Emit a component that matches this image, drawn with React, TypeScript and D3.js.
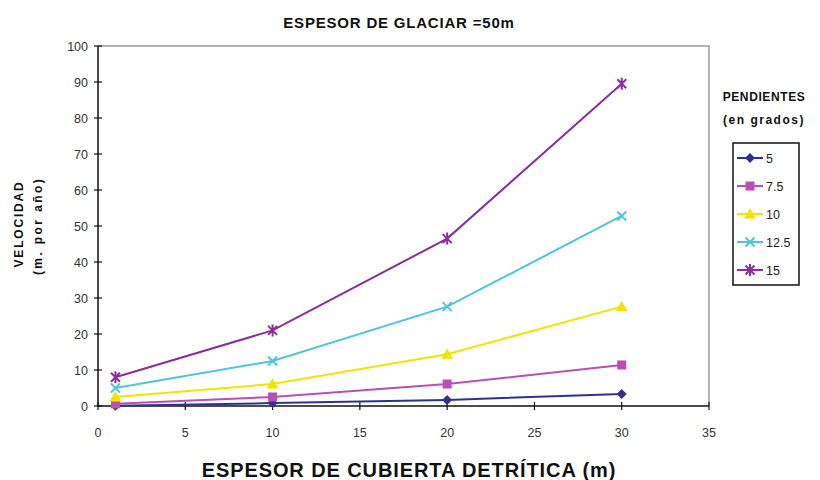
import React from "react";
import * as d3 from "d3";

const xValues = [1, 10, 20, 30];
const seriesNames = ["5", "7.5", "10", "12.5", "15"];
const s5 = [0.1, 0.8, 1.7, 3.3];
const s75 = [0.6, 2.5, 6.1, 11.4];
const s10 = [2.5, 6.1, 14.4, 27.6];
const s125 = [5, 12.5, 27.6, 52.8];
const s15 = [8, 21, 46.5, 89.5];
const allSeries = [s5, s75, s10, s125, s15];
const colors = ["#2E3192", "#B94FB0", "#F0E500", "#4EC6DA", "#8A2D9E"];
const markers = ["diamond", "square", "triangle", "x", "star"];
const xTicks = [0, 5, 10, 15, 20, 25, 30, 35];
const yTicks = [0, 10, 20, 30, 40, 50, 60, 70, 80, 90, 100];

function Marker({ type, x, y, color }: { type: string; x: number; y: number; color: string }) {
  if (type === "diamond")
    return <path d={`M${x},${y - 5}L${x + 5},${y}L${x},${y + 5}L${x - 5},${y}Z`} fill={color} />;
  if (type === "square") return <rect x={x - 4.5} y={y - 4.5} width={9} height={9} fill={color} />;
  if (type === "triangle")
    return <path d={`M${x},${y - 6}L${x + 6},${y + 4.5}L${x - 6},${y + 4.5}Z`} fill={color} />;
  if (type === "x")
    return (
      <path d={`M${x - 4.5},${y - 4.5}L${x + 4.5},${y + 4.5}M${x + 4.5},${y - 4.5}L${x - 4.5},${y + 4.5}`} stroke={color} strokeWidth={2} />
    );
  return (
    <path
      d={`M${x - 4.5},${y - 4.5}L${x + 4.5},${y + 4.5}M${x + 4.5},${y - 4.5}L${x - 4.5},${y + 4.5}M${x},${y - 6}L${x},${y + 6}`}
      stroke={color}
      strokeWidth={2}
    />
  );
}

export default function App() {
  const W = 820, H = 480;
  const left = 98, right = 709, top = 46, bottom = 406;
  const x = d3.scaleLinear().domain([0, 35]).range([left, right]);
  const y = d3.scaleLinear().domain([0, 100]).range([bottom, top]);
  const line = d3.line<number>().x((_, i) => x(xValues[i])).y((d) => y(d));
  const font = "Liberation Sans, Arial, sans-serif";

  const legX = 733, legY = 143, legW = 66, legH = 142;
  return (
    <svg width={W} height={H} style={{ position: "absolute", left: 0, top: 0 }} fontFamily={font}>
      <rect width={W} height={H} fill="#fff" />
      <text x={399} y={28} textAnchor="middle" fontSize={15} fontWeight="bold" letterSpacing={0.8} fill="#111">
        ESPESOR DE GLACIAR =50m
      </text>
      {/* plot frame */}
      <path d={`M${left},${top}H${right}V${bottom}`} fill="none" stroke="#999" strokeWidth={1.5} />
      {/* axes */}
      <line x1={left} x2={left} y1={top} y2={bottom} stroke="#111" strokeWidth={1.5} />
      <line x1={left} x2={right} y1={bottom} y2={bottom} stroke="#111" strokeWidth={1.5} />
      {yTicks.map((t) => (
        <g key={"y" + t}>
          <line x1={left - 4} x2={left + 4} y1={y(t)} y2={y(t)} stroke="#111" strokeWidth={1.2} />
          <text x={left - 10} y={y(t) + 4.5} textAnchor="end" fontSize={12.5} fill="#333">
            {t}
          </text>
        </g>
      ))}
      {xTicks.map((t) => (
        <g key={"x" + t}>
          <line x1={x(t)} x2={x(t)} y1={bottom - 4} y2={bottom + 4} stroke="#111" strokeWidth={1.2} />
          <text x={x(t)} y={bottom + 31} textAnchor="middle" fontSize={12.5} fill="#333">
            {t}
          </text>
        </g>
      ))}
      {/* series */}
      {allSeries.map((s, i) => (
        <g key={"s" + i}>
          <path d={line(s) || ""} fill="none" stroke={colors[i]} strokeWidth={2} />
          {s.map((v, j) => (
            <Marker key={j} type={markers[i]} x={x(xValues[j])} y={y(v)} color={colors[i]} />
          ))}
        </g>
      ))}
      {/* y title */}
      <text transform="translate(23,224) rotate(-90)" textAnchor="middle" fontSize={12} fontWeight="bold" letterSpacing={1.8} fill="#111">
        VELOCIDAD
      </text>
      <text transform="translate(42,226) rotate(-90)" textAnchor="middle" fontSize={12} fontWeight="bold" letterSpacing={2.4} fill="#111">
        (m. por año)
      </text>
      {/* x title */}
      <text x={409} y={477} textAnchor="middle" fontSize={20} fontWeight="bold" letterSpacing={0.9} fill="#111">
        ESPESOR DE CUBIERTA DETRÍTICA (m)
      </text>
      {/* legend */}
      <text x={764} y={101} textAnchor="middle" fontSize={12} fontWeight="bold" letterSpacing={0.6} fill="#111">
        PENDIENTES
      </text>
      <text x={764} y={124} textAnchor="middle" fontSize={12} fontWeight="bold" letterSpacing={1.5} fill="#111">
        (en grados)
      </text>
      <rect x={legX} y={legY} width={legW} height={legH} fill="#fff" stroke="#111" strokeWidth={1.5} />
      {seriesNames.map((n, i) => {
        const yy = legY + 15 + i * 28;
        return (
          <g key={"l" + i}>
            <line x1={legX + 4} x2={legX + 30} y1={yy} y2={yy} stroke={colors[i]} strokeWidth={2} />
            <Marker type={markers[i]} x={legX + 17} y={yy} color={colors[i]} />
            <text x={legX + 33} y={yy + 5} fontSize={12.5} fill="#222">
              {n}
            </text>
          </g>
        );
      })}
    </svg>
  );
}
